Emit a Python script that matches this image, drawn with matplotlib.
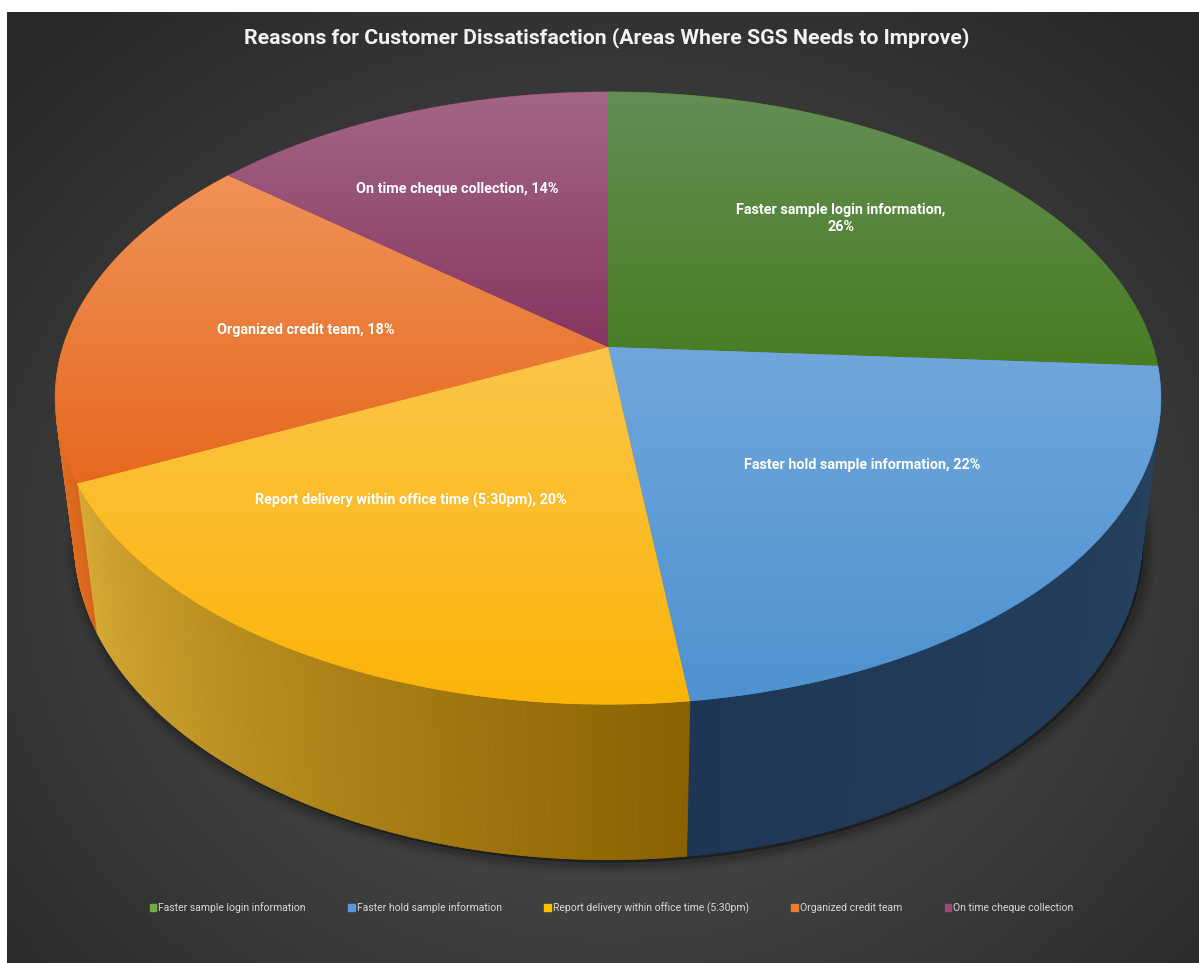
import numpy as np
import matplotlib.pyplot as plt
from matplotlib.patches import Polygon, Patch
from matplotlib.colors import to_rgb

categories = ['Faster sample login information', 'Faster hold sample information',
              'Report delivery within office time (5:30pm)', 'Organized credit team',
              'On time cheque collection']
shares = [26, 22, 20, 18, 14]

# top face gradient (upper, lower) and side wall colour (low angle, high angle)
face_cols = [('#648e55', '#487d23'), ('#70a6dc', '#4e92d0'), ('#fbc548', '#fcb408'),
             ('#f09258', '#e6691e'), ('#a36688', '#863660')]
wall_cols = [('#2e4a1c', '#2e4a1c'), ('#26425f', '#1e3756'), ('#8a6200', '#d8ab36'),
             ('#d8661c', '#e06e22'), ('#5a2440', '#5a2440')]
legend_cols = ['#70ad47', '#5b9bd5', '#ffc000', '#ed7d31', '#9e4a78']
label_nudge = [(10, -14), (-2, -13), (-24, -18), (18, 5), (-23, -10)]

FONT = ['Roboto', 'DejaVu Sans']
W, H = 1199, 963

# camera for the 3d pie (pixel space)
cx, cy, scale = 608, 347, 2740
elev = np.radians(33.1)
c, s = np.cos(elev), np.sin(elev)
dist = 6 * c
thick = 0.323


def project(theta, r, z):
    th = np.radians(theta)
    X, Y = r * np.sin(th), r * np.cos(th)
    dep = Y * c - z * s + dist
    up = Y * s + z * c
    return cx + scale * X / dep, cy - scale * up / dep


def mix(a, b, t):
    a, b = np.array(to_rgb(a)), np.array(to_rgb(b))
    return a + (b - a) * t


fig = plt.figure(figsize=(W / 100, H / 100), dpi=100)
fig.patch.set_facecolor('white')
ax = fig.add_axes([0, 0, 1, 1])
ax.set_xlim(0, W)
ax.set_ylim(H, 0)
ax.axis('off')

# radial background
gx, gy = np.meshgrid(np.arange(7, W), np.arange(12, H))
rr = np.sqrt(((gx - 610) / 820) ** 2 + ((gy - 560) / 700) ** 2)
g = np.clip(1 - rr, 0, 1)
shade = 0.16 + 0.18 * g
bg = np.dstack([shade, shade, shade])
ax.imshow(bg, extent=(7, W, H, 12), aspect='auto', zorder=0)

bounds = np.concatenate([[0], np.cumsum(shares)]) / sum(shares) * 360
vis0 = np.degrees(np.arccos(-1 / (dist * c)))
vis1 = 360 - vis0

# soft shadow under the pie
ring = np.linspace(0, 360, 361)
bx, by = project(ring, 1, -thick)
for lw, a in [(18, 0.04), (13, 0.05), (9, 0.07), (5, 0.1)]:
    ax.add_patch(Polygon(np.column_stack([bx + 3, by + 4]), closed=True, fc='none',
                         ec='black', lw=lw, alpha=a, joinstyle='round', zorder=1))
ax.add_patch(Polygon(np.column_stack([bx + 2, by + 3]), closed=True, fc='black',
                     alpha=0.35, zorder=1))

# side walls
for i in range(len(shares)):
    a0, a1 = max(bounds[i], vis0), min(bounds[i + 1], vis1)
    if a1 <= a0:
        continue
    steps = np.linspace(a0, a1, int((a1 - a0) * 2) + 2)
    for k in range(len(steps) - 1):
        t0, t1 = steps[k], steps[k + 1]
        col = mix(*wall_cols[i], (0.5 * (t0 + t1) - a0) / (a1 - a0))
        x0, y0 = project(t0, 1, 0)
        x1, y1 = project(t1, 1, 0)
        x2, y2 = project(t1, 1, -thick)
        x3, y3 = project(t0, 1, -thick)
        ax.add_patch(Polygon([[x0, y0], [x1, y1], [x2, y2], [x3, y3]], closed=True,
                             fc=col, ec=col, lw=0.6, zorder=2))

# top faces with vertical gradient
for i in range(len(shares)):
    arc = np.linspace(bounds[i], bounds[i + 1], 200)
    px, py = project(arc, 1, 0)
    pts = np.vstack([[cx, cy], np.column_stack([px, py])])
    poly = Polygon(pts, closed=True, fc=face_cols[i][1], ec=face_cols[i][1], lw=0.5,
                   zorder=3)
    ax.add_patch(poly)
    ymin, ymax = pts[:, 1].min(), pts[:, 1].max()
    grad = np.linspace(0, 1, 128)
    img = np.array([mix(*face_cols[i], t) for t in grad])[:, None, :]
    im = ax.imshow(img, extent=(pts[:, 0].min(), pts[:, 0].max(), ymax, ymin),
                   aspect='auto', zorder=4, interpolation='bilinear')
    im.set_clip_path(poly)

# data labels
labels = [f'{cat}, {v}%' for cat, v in zip(categories, shares)]
labels[0] = labels[0].replace(', ', ',\n')
for i, lab in enumerate(labels):
    mid = 0.5 * (bounds[i] + bounds[i + 1])
    lx, ly = project(mid, 0.6, 0)
    dx, dy = label_nudge[i]
    ax.text(lx + dx, ly + dy, lab, ha='center', va='center', color='white', fontsize=10.4,
            fontweight='bold', family=FONT, zorder=6, linespacing=1.2)

ax.text(607, 38, 'Reasons for Customer Dissatisfaction (Areas Where SGS Needs to Improve)',
        ha='center', va='center', color='#f2f2f2', fontsize=15.3, fontweight='bold',
        family=FONT, zorder=6)

handles = [Patch(color=col) for col in legend_cols]
ax.legend(handles, categories, loc='center', bbox_to_anchor=(0.51, 1 - 908 / H), ncol=5,
          frameon=False, prop={'family': FONT, 'size': 7.5}, labelcolor='#d9d9d9',
          handlelength=0.6, handleheight=0.6, handletextpad=0.2, columnspacing=4.1)

fig.savefig('out.png', dpi=100, facecolor='white')
